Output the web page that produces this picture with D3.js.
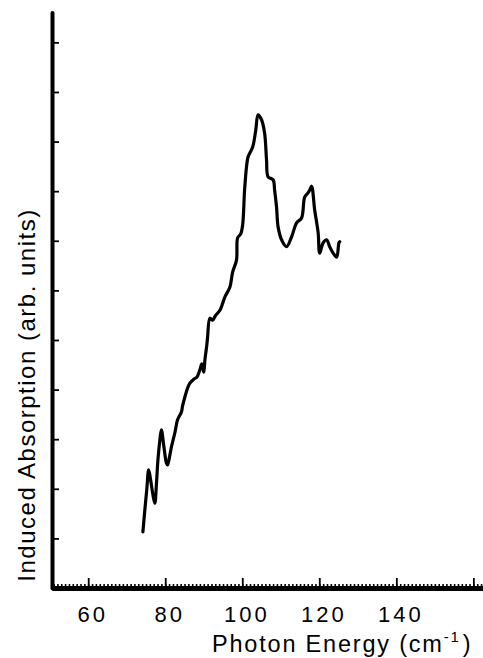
<!DOCTYPE html>
<html>
<head>
<meta charset="utf-8">
<script src="https://cdn.jsdelivr.net/npm/d3@7"></script>
<style>
  body { margin: 0; background: #fff; }
  text { font-family: "Liberation Sans", Arial, sans-serif; fill: #000; }
</style>
</head>
<body>
<div id="chart"></div>
<script>
// photon energy (cm-1) and induced absorption (arb. units)
var energy = [74.2, 74.7, 75.2, 75.7, 76.2, 76.8, 77.3, 77.7, 78.1, 78.6, 79.0, 79.6, 80.3, 80.6, 81.2, 81.6,
  82.5, 83.2, 84.2, 84.5, 85.1, 85.8, 86.4, 87.4, 88.2, 89.0, 89.5, 90.0, 90.3, 90.8, 91.0, 91.6,
  92.3, 93.1, 94.2, 95.5, 96.8, 97.5, 98.5, 98.8, 99.6, 100.1, 100.6, 101.1, 101.5, 102.7, 103.5, 104.1,
  105.0, 105.8, 106.3, 106.7, 108.0, 108.4, 108.9, 109.3, 110.2, 111.5, 112.8, 114.1, 115.4, 116.2,
  117.0, 117.5, 118.0, 118.8, 119.7, 120.1, 121.0, 121.9, 122.7, 123.6, 124.5, 125.1, 125.3]
var absorption = [1.13, 1.57, 1.98, 2.38, 2.18, 1.88, 1.71, 2.08, 2.58, 2.98, 3.19, 2.88, 2.52, 2.48, 2.68, 2.84,
  3.13, 3.39, 3.55, 3.67, 3.85, 4.03, 4.13, 4.21, 4.25, 4.40, 4.52, 4.35, 4.60, 4.90, 5.06, 5.44,
  5.40, 5.50, 5.60, 5.87, 6.07, 6.37, 6.61, 7.06, 7.14, 7.32, 8.02, 8.49, 8.69, 8.89, 9.23, 9.54,
  9.44, 9.17, 8.63, 8.29, 8.23, 8.02, 7.68, 7.28, 7.02, 6.88, 7.08, 7.36, 7.46, 7.88,
  7.96, 8.02, 8.10, 7.62, 7.16, 6.75, 6.96, 7.02, 6.88, 6.75, 6.67, 6.96, 6.98]

var xTicks = [60, 80, 100, 120, 140, 160]
var xTickLabels = ["60", "80", "100", "120", "140", ""]
var yTicks = [1, 2, 3, 4, 5, 6, 7, 8, 9, 10, 11]

var xTitle = "Photon Energy (cm"
var yTitle = "Induced Absorption (arb. units)"

var width = 483, height = 658

var svg = d3.select("#chart")
  .append("svg")
    .attr("width", width)
    .attr("height", height)

var x = d3.scaleLinear().domain([50.6, 162.5]).range([52, 483])
var y = d3.scaleLinear().domain([0, 11.6]).range([588, 12.6])

// minor ticks on x, one per unit
var minor = d3.range(51, 163)
svg.append("g")
  .attr("transform", "translate(0,588)")
  .call(d3.axisBottom(x).tickValues(minor).tickSize(-4).tickFormat(""))
  .call(function(g) { g.select(".domain").remove() })
  .selectAll("line").style("stroke-width", 1.6)

// major x axis
var xAxis = svg.append("g")
  .attr("transform", "translate(0,588)")
  .call(d3.axisBottom(x).tickValues(xTicks).tickSizeInner(-10).tickSizeOuter(0)
    .tickFormat(function(d, i) { return xTickLabels[i] }))
xAxis.select(".domain").style("stroke-width", 5)
xAxis.selectAll("line").style("stroke-width", 1.8)
xAxis.selectAll("text")
  .attr("y", 18)
  .attr("dx", 4)
  .style("font-size", "22px")
  .style("letter-spacing", "3px")
  .style("font-family", "Liberation Sans, Arial, sans-serif")

// y axis, ticks pointing inside
var yAxis = svg.append("g")
  .attr("transform", "translate(52,0)")
  .call(d3.axisLeft(y).tickValues(yTicks).tickSizeInner(-7).tickSizeOuter(0).tickFormat(""))
yAxis.select(".domain").style("stroke-width", 4).style("stroke-linecap", "round")
yAxis.selectAll("line").style("stroke-width", 1.8)

// the trace
var line = d3.line()
  .x(function(d, i) { return x(energy[i]) })
  .y(function(d, i) { return y(absorption[i]) })
  .curve(d3.curveCatmullRom)

svg.append("path")
  .datum(energy)
  .attr("d", line)
  .style("fill", "none")
  .style("stroke", "#000")
  .style("stroke-width", 3.2)
  .style("stroke-linejoin", "round")
  .style("stroke-linecap", "round")

// axis titles
var xt = svg.append("text")
  .attr("x", 212)
  .attr("y", 652)
  .style("font-size", "23.5px")
  .style("letter-spacing", "1.8px")
xt.append("tspan").text(xTitle)
xt.append("tspan").attr("dy", -10).style("font-size", "15px").text("-1")
xt.append("tspan").attr("dy", 10).attr("dx", 2).text(")")

svg.append("text")
  .attr("transform", "translate(35,395) rotate(-90)")
  .attr("text-anchor", "middle")
  .style("font-size", "24px")
  .style("letter-spacing", "1.5px")
  .text(yTitle)
</script>
</body>
</html>
